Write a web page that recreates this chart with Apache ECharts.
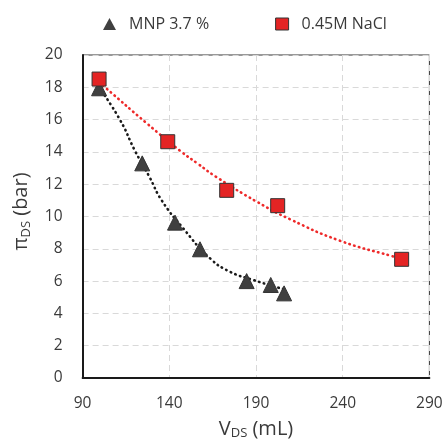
<!DOCTYPE html>
<html>
<head>
<meta charset="utf-8">
<script src="https://cdn.jsdelivr.net/npm/echarts@6/dist/echarts.min.js"></script>
<style>html,body{margin:0;padding:0;background:#fff}#c{width:447px;height:446px}</style>
</head>
<body>
<div id="c"></div>
<script>
// Data
const mnpV = [99.5, 124.4, 143.3, 157.7, 184.6, 198.5, 206.2];
const mnpPi = [17.94, 13.29, 9.62, 7.97, 6.0, 5.76, 5.24];
const naclV = [99.5, 139.1, 173.1, 202.5, 274.0];
const naclPi = [18.51, 14.63, 11.62, 10.67, 7.35];
// Trend lines
const mnpTrendV = [99.5, 111.6, 120.2, 128.5, 135.6, 148.0, 163.5, 175.0, 188.4, 201.0, 206.2];
const mnpTrendPi = [18.0, 15.98, 14.07, 12.46, 11.0, 9.27, 7.41, 6.58, 6.07, 5.65, 5.5];
const naclTrendV = [99.5, 102.9, 127.0, 146.2, 156.7, 166.9, 190.4, 209.6, 238.4, 268.3, 274.0];
const naclTrendPi = [18.3, 18.0, 15.77, 14.07, 13.25, 12.46, 10.92, 9.83, 8.5, 7.55, 7.4];
const xTicks = [90, 140, 190, 240, 290];
const yTicks = [0, 2, 4, 6, 8, 10, 12, 14, 16, 18, 20];

const zip = (a, b) => a.map((v, i) => [v, b[i]]);
const font = '"Open Sans", "Liberation Sans", sans-serif';
const txt = '#3a3a3a';

const chart = echarts.init(document.getElementById('c'), null, {renderer: 'canvas'});
chart.setOption({
  animation: false,
  backgroundColor: '#fff',
  textStyle: {fontFamily: font},
  legend: {
    top: 11,
    left: 98,
    itemGap: 66,
    itemWidth: 13,
    itemHeight: 12,
    textStyle: {fontSize: 16, color: txt, fontFamily: font, padding: [0, 0, 0, 8]},
    data: [
      {name: 'MNP 3.7 %', icon: 'triangle', itemStyle: {color: '#404040', borderColor: '#404040', borderWidth: 0}},
      {name: '0.45M NaCl', icon: 'rect', itemStyle: {color: '#e42424', borderColor: '#333', borderWidth: 1}}
    ]
  },
  grid: {left: 82.6, right: 17.6, top: 55, bottom: 68, show: true, borderColor: '#333', borderWidth: 1, containLabel: false},
  xAxis: {
    type: 'value', min: 90, max: 290, interval: 50,
    axisLine: {show: true, lineStyle: {color: '#1a1a1a', width: 2}},
    axisTick: {show: false},
    axisLabel: {fontSize: 15.5, color: txt, margin: 18, fontFamily: font,
      formatter: v => xTicks.includes(v) ? String(v) : ''},
    splitLine: {show: true, lineStyle: {color: '#d9d9d9', type: [6, 4], width: 1}},
    name: '{a|V}{s|DS}{a| (mL)}',
    nameLocation: 'middle',
    nameGap: 40,
    nameTextStyle: {rich: {
      a: {fontSize: 20, color: txt, fontFamily: font},
      s: {fontSize: 13, color: txt, fontFamily: font, verticalAlign: 'bottom', padding: [9, 0, 0, 0]}
    }}
  },
  yAxis: {
    type: 'value', min: 0, max: 20, interval: 2,
    axisLine: {show: true, lineStyle: {color: '#1a1a1a', width: 2}},
    axisTick: {show: false},
    axisLabel: {fontSize: 15.5, color: txt, margin: 20, fontFamily: font,
      formatter: v => yTicks.includes(v) ? String(v) : ''},
    splitLine: {show: true, lineStyle: {color: '#d9d9d9', type: [6, 4], width: 1}},
    name: '{a|π}{s|DS}{a| (bar)}',
    nameLocation: 'middle',
    nameGap: 50,
    nameRotate: 90,
    nameTextStyle: {padding: [0, 0, 0, 10], rich: {
      a: {fontSize: 20, color: txt, fontFamily: font},
      s: {fontSize: 13, color: txt, fontFamily: font, verticalAlign: 'bottom', padding: [9, 0, 0, 0]}
    }}
  },
  series: [
    {
      name: 'mnpTrend', type: 'line', data: zip(mnpTrendV, mnpTrendPi), smooth: true,
      showSymbol: false, symbol: 'none', silent: true,
      lineStyle: {color: '#1a1a1a', width: 2.6, type: [0.5, 4.5], cap: 'round'}, z: 2
    },
    {
      name: 'naclTrend', type: 'line', data: zip(naclTrendV, naclTrendPi), smooth: true,
      showSymbol: false, symbol: 'none', silent: true,
      lineStyle: {color: '#ee2a2a', width: 2.6, type: [0.5, 4.5], cap: 'round'}, z: 2
    },
    {
      name: 'MNP 3.7 %', type: 'scatter', data: zip(mnpV, mnpPi), symbol: 'triangle', symbolSize: 15,
      itemStyle: {color: '#404040', borderColor: '#333', borderWidth: 1, opacity: 1}, z: 3
    },
    {
      name: '0.45M NaCl', type: 'scatter', data: zip(naclV, naclPi), symbol: 'rect', symbolSize: 14,
      itemStyle: {color: '#e42424', borderColor: '#333', borderWidth: 1, opacity: 1}, z: 4
    }
  ]
});
</script>
</body>
</html>
